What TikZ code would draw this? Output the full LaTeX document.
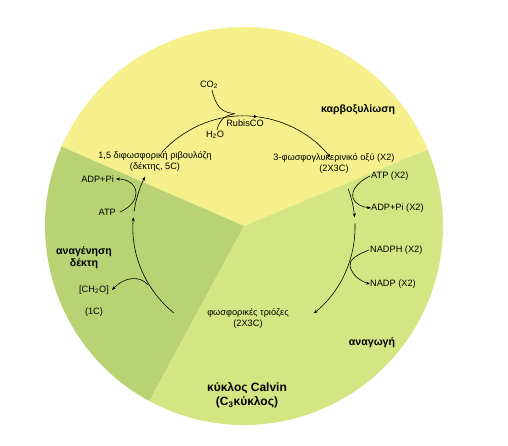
\documentclass[tikz,border=0pt]{standalone}
\usepackage{fontspec}
\setmainfont{Liberation Sans}
\usetikzlibrary{arrows.meta,calc}
\definecolor{yel}{HTML}{F5F08C}
\definecolor{dgreen}{HTML}{B9D274}
\definecolor{lgreen}{HTML}{D3E683}
\begin{document}
\begin{tikzpicture}[x=1pt,y=1pt,
  flow/.style={line width=0.6pt,-{Stealth[length=4pt,width=3.2pt]}},
  lbl/.style={font=\fontsize{9.2}{11}\selectfont,inner sep=0pt,align=center},
  phase/.style={font=\bfseries\fontsize{10.6}{12}\selectfont,inner sep=0pt,align=center},
  title/.style={font=\bfseries\fontsize{12}{14}\selectfont,inner sep=0pt,align=center}]
\useasboundingbox (0,0) rectangle (508,445);
% pie sectors
\coordinate (C) at (244,219);
\fill[yel] (C) -- ([shift={(22.6:199)}]C) arc[start angle=22.6,end angle=156.5,radius=199] -- cycle;
\fill[dgreen] (C) -- ([shift={(156.5:199)}]C) arc[start angle=156.5,end angle=241.6,radius=199] -- cycle;
\fill[lgreen] (C) -- ([shift={(241.6:199)}]C) arc[start angle=241.6,end angle=382.6,radius=199] -- cycle;
% cycle
\coordinate (K) at (244,218);
\coordinate (a1) at ([shift={(138:111)}]K);
\coordinate (a2) at ([shift={(83:111)}]K);
\coordinate (b1) at ([shift={(20:111)}]K);
\coordinate (b2) at ([shift={(2:111)}]K);
\coordinate (c1) at ([shift={(230.7:111)}]K);
\coordinate (c2) at ([shift={(172:111)}]K);
\draw[flow] (a1) arc[start angle=138,end angle=83,radius=111];
\draw[flow] (a2) arc[start angle=83,end angle=39,radius=111];
\draw[flow] (b1) arc[start angle=20,end angle=5,radius=111];
\draw[flow] (b2) arc[start angle=2,end angle=-51,radius=111];
\draw[flow] (c1) arc[start angle=230.7,end angle=175,radius=111];
\draw[flow] (c2) arc[start angle=172,end angle=153,radius=111];
% labels
\node[lbl] (co2) at (209,360) {CO\textsubscript{2}};
\node[lbl] (rub) at (245,322) {RubisCO};
\node[lbl] (h2o) at (215,310) {H\textsubscript{2}O};
\node[lbl] (rubp) at (155,283.5) {1,5 διφωσφορική ριβουλόζη\\(δέκτης, 5C)};
\node[lbl] (pga) at (334,282) {3-φωσφογλυκερινικό οξύ (X2)\\(2X3C)};
\node[lbl,anchor=west] (atpr) at (371,269) {ATP (X2)};
\node[lbl,anchor=west] (adpr) at (371,237) {ADP+Pi (X2)};
\node[lbl,anchor=west] (nadph) at (370,195) {NADPH (X2)};
\node[lbl,anchor=west] (nadp) at (370,161) {NADP (X2)};
\node[lbl,anchor=east] (adpl) at (114,266) {ADP+Pi};
\node[lbl,anchor=east] (atpl) at (116,233) {ATP};
\node[lbl] (ch2o) at (94,155) {[CH\textsubscript{2}O]};
\node[lbl] (onec) at (94,133) {(1C)};
\node[lbl] (g3p) at (248,127) {φωσφορικές τριόζες\\(2X3C)};
\node[phase] (carb) at (358,335) {καρβοξυλίωση};
\node[phase] (red) at (372,102) {αναγωγή};
\node[phase] (reg) at (84,187.5) {αναγένηση\\δέκτη};
\node[title] (calvin) at (247,50) {κύκλος Calvin\\(C\textsubscript{3}κύκλος)};
% side curves
\draw[line width=0.6pt] (co2.south) ++(3,-1) .. controls (216,338) and (222,332) .. (235,331.5);
\draw[line width=0.6pt] (h2o.north) ++(2,1) .. controls (219,324) and (224,329.5) .. (234,331);
\draw[flow] ([xshift=-1pt]atpr.west) .. controls (358,263) and (351,255) .. (353,247) .. controls (355,241) and (362,238) .. (adpr.west);
\draw[flow] ([xshift=-1pt]nadph.west) .. controls (356,190) and (349,185) .. (350,179) .. controls (352,170) and (360,164) .. (nadp.west);
\draw[flow] (atpl.east) ++(4,0) .. controls (131,238) and (136,245) .. (136,252) .. controls (136,261) and (127,266) .. ([xshift=2pt]adpl.east);
\draw[flow] (148,160) .. controls (140,170) and (124,168) .. ([xshift=3pt]ch2o.east);
\end{tikzpicture}
\end{document}
